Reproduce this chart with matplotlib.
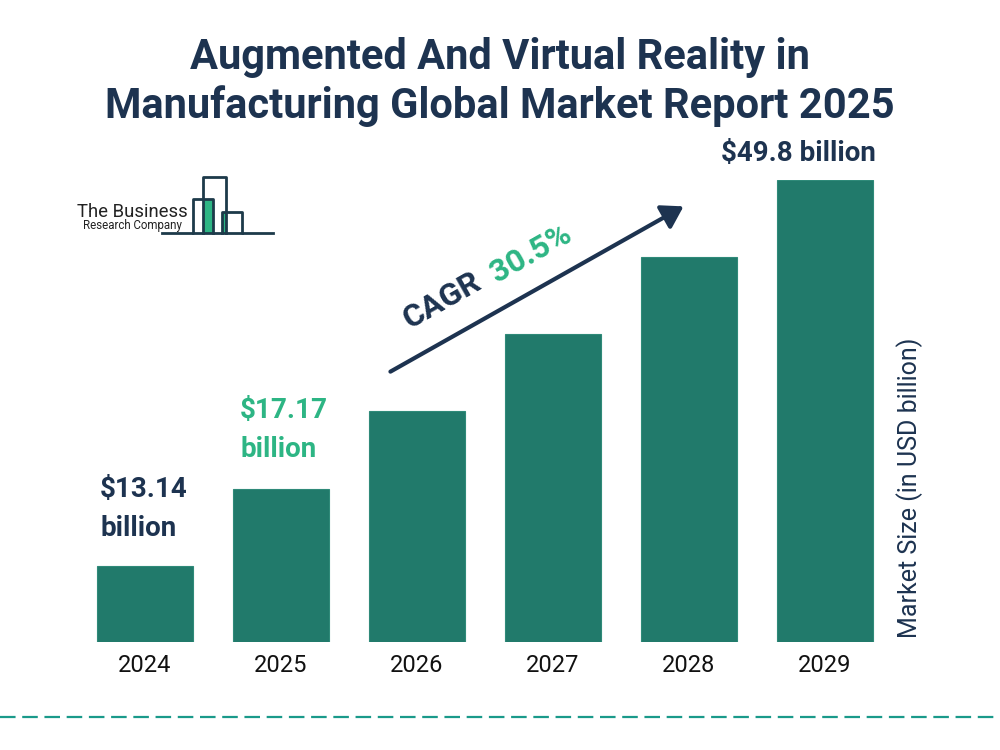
import matplotlib
matplotlib.use("Agg")
import matplotlib.pyplot as plt
from matplotlib.patches import Rectangle, FancyArrowPatch
from matplotlib.lines import Line2D

plt.rcParams['font.family'] = ['Roboto', 'DejaVu Sans']

years = ["2024", "2025", "2026", "2027", "2028", "2029"]
# bar heights as drawn in the picture (relative units; the graphic is not to scale)
bar_heights = [76, 153, 231, 308, 385, 462]
value_labels = {"2024": "$13.14\nbillion", "2025": "$17.17\nbillion", "2029": "$49.8 billion"}
cagr_text = "30.5%"
title = "Augmented And Virtual Reality in\nManufacturing Global Market Report 2025"
ylabel = "Market Size (in USD billion)"

BAR = "#217a6b"
NAVY = "#1d3350"
GREEN = "#2db584"

W, H = 1000, 750
fig = plt.figure(figsize=(10, 7.5), dpi=100)

def fx(px):
    return px / W

def fy(py):
    return 1 - py / H

ax = fig.add_axes([fx(77), fy(642), 816 / W, 462 / H])
x = list(range(len(years)))
ax.bar(x, bar_heights, width=0.706, color=BAR, edgecolor="#2f8a79", linewidth=0.8)
ax.set_xlim(-0.5, 5.5)
ax.set_ylim(0, 462)
ax.set_xticks(x)
ax.set_xticklabels(years, fontsize=17, color="#111111")
ax.tick_params(axis="x", length=0, pad=9)
ax.set_yticks([])
for s in ax.spines.values():
    s.set_visible(False)
ax.patch.set_alpha(0)

# title
fig.text(0.5, fy(82), title, ha="center", va="center", fontsize=30, fontweight="bold",
         color=NAVY, linespacing=1.2)

# value labels
fig.text(fx(100), fy(509), value_labels["2024"], ha="left", va="center", fontsize=20,
         fontweight="bold", color=NAVY, linespacing=1.55)
fig.text(fx(240), fy(430), value_labels["2025"], ha="left", va="center", fontsize=20,
         fontweight="bold", color=GREEN, linespacing=1.55)
fig.text(fx(798), fy(153), value_labels["2029"], ha="center", va="center", fontsize=20,
         fontweight="bold", color=NAVY)

# y label
fig.text(fx(910), fy(488), ylabel, ha="center", va="center", rotation=90, fontsize=18,
         color=NAVY)

# CAGR arrow
arr = FancyArrowPatch((fx(388), fy(373)), (fx(686), fy(205)), transform=fig.transFigure,
                      arrowstyle="-|>,head_length=8,head_width=5", mutation_scale=1.6,
                      color=NAVY, linewidth=3)
fig.patches.append(arr)
fig.text(fx(442), fy(300), "CAGR", ha="center", va="center", rotation=29.5, fontsize=23,
         fontweight="bold", color=NAVY)
fig.text(fx(531), fy(253), cagr_text, ha="center", va="center", rotation=29.5, fontsize=23,
         fontweight="bold", color=GREEN)

# logo
lc = "#1d3a4a"
fig.patches.append(Rectangle((fx(203), fy(233)), 10 / W, 34 / H, transform=fig.transFigure,
                             facecolor=GREEN, edgecolor="none"))
fig.patches.append(Rectangle((fx(222), fy(233)), 4 / W, 21 / H, transform=fig.transFigure,
                             facecolor=GREEN, edgecolor="none"))
def pl(xs, ys):
    fig.lines.append(Line2D([fx(v) for v in xs], [fy(v) for v in ys], transform=fig.transFigure,
                            color=lc, linewidth=2))
pl([162, 193, 193, 213, 213], [233, 233, 199, 199, 233])
pl([203, 203, 226, 226], [233, 177, 177, 233])
pl([222, 222, 242, 242, 273], [233, 212, 212, 233, 233])
pl([193, 242], [233, 233])
fig.text(fx(77), fy(212), "The Business", ha="left", va="center", fontsize=13.3, color="#222222")
fig.text(fx(83), fy(226), "Research Company", ha="left", va="center", fontsize=8.3, color="#222222")

# dashed separator
fig.lines.append(Line2D([0, 1], [fy(717), fy(717)], transform=fig.transFigure, color="#1a9a8a",
                        linewidth=1.6, dashes=(7, 3)))

fig.savefig("out.png", dpi=100, facecolor="white")
